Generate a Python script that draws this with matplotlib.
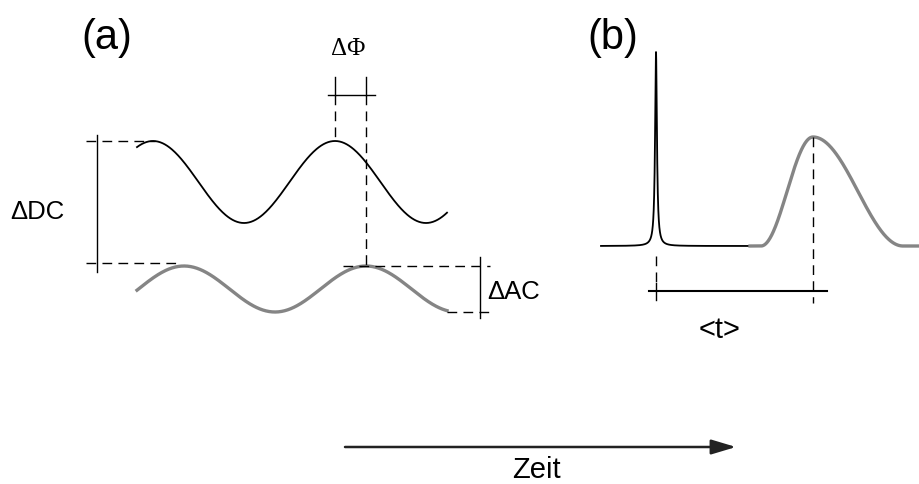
import numpy as np
import matplotlib.pyplot as plt

plt.rcParams['font.family'] = ['Liberation Sans', 'DejaVu Sans']

# (a) frequency domain: excitation and emission waves (pixel units)
wave_x = [137, 447]
exc_center, exc_amp, exc_peak = 182, 41, 335
em_center, em_amp, em_peak = 289, 23, 366
period = 182

# (b) time domain: laser pulse and fluorescence decay
base_y = 246
pulse_x, pulse_top, pulse_w = 656, 52, 1.1
pulse_range = [601, 750]
decay_peak, decay_top = 813, 137
decay_rise, decay_fall = 52, 90
decay_range = [750, 920]

GRAY = '#858585'
DASH = (0, (7, 4.5))

fig = plt.figure(figsize=(9.2, 4.84), dpi=100)
ax = fig.add_axes([0, 0, 1, 1])
ax.set_xlim(0, 920)
ax.set_ylim(484, 0)
ax.axis('off')

# sine waves
x = np.linspace(wave_x[0], wave_x[1], 400)
exc = exc_center - exc_amp * np.cos(2 * np.pi * (x - exc_peak) / period)
em = em_center - em_amp * np.cos(2 * np.pi * (x - em_peak) / period)
ax.plot(x, exc, color='black', lw=1.3)
ax.plot(x, em, color=GRAY, lw=2.4)

exc_top = exc_center - exc_amp
em_top = em_center - em_amp
em_bot = em_center + em_amp

# DC marker
ax.plot([97, 97], [135, 272], color='black', lw=1)
ax.plot([86, 155], [exc_top, exc_top], color='black', lw=1, ls=DASH)
ax.plot([86, 178], [em_top - 3, em_top - 3], color='black', lw=1, ls=DASH)
ax.text(37, 212, 'ΔDC', fontsize=18.5, ha='center', va='center')

# phase marker
for xp in (exc_peak, em_peak):
    ax.plot([xp, xp], [77, 95], color='black', lw=1)
ax.plot([328, 375], [95, 95], color='black', lw=1)
ax.plot([exc_peak, exc_peak], [95, exc_top], color='black', lw=1, ls=DASH)
ax.plot([em_peak, em_peak], [95, em_top], color='black', lw=1, ls=DASH)
ax.text(348, 49, 'ΔΦ', fontsize=18, ha='center', va='center',
        family='Liberation Serif')

# AC marker
ax.plot([343, 490], [em_top, em_top], color='black', lw=1, ls=DASH)
ax.plot([447, 490], [em_bot, em_bot], color='black', lw=1, ls=DASH)
ax.plot([480, 480], [257, 318], color='black', lw=1)
ax.text(514, 292, 'ΔAC', fontsize=18.5, ha='center', va='center')

# pulse
xp = np.linspace(pulse_range[0], pulse_range[1], 2000)
pulse = base_y - (base_y - pulse_top) / (1 + ((xp - pulse_x) / pulse_w) ** 2)
ax.plot(xp, pulse, color='black', lw=1.3)

# fluorescence decay: skewed raised-cosine peak
xd = np.linspace(decay_range[0], decay_range[1], 400)
half = np.where(xd < decay_peak, decay_rise, decay_fall)
d = np.clip(np.abs(xd - decay_peak) / half, 0, 1)
shape = 0.5 * (1 + np.cos(np.pi * d))
ax.plot(xd, base_y - (base_y - decay_top) * shape, color=GRAY, lw=2.4)

# lifetime marker
ax.plot([pulse_x, pulse_x], [256, 283], color='black', lw=1, ls=DASH)
ax.plot([pulse_x, pulse_x], [283, 300], color='black', lw=1)
ax.plot([decay_peak, decay_peak], [decay_top, 303], color='black', lw=1, ls=DASH)
ax.plot([649, 827], [291, 291], color='black', lw=1.5)
ax.text(720, 330, '<t>', fontsize=21, ha='center', va='center')

# panel labels
ax.text(107, 38, '(a)', fontsize=30, ha='center', va='center')
ax.text(613, 38, '(b)', fontsize=30, ha='center', va='center')

# time arrow
ax.annotate('', xy=(736, 447), xytext=(345, 447),
            arrowprops=dict(arrowstyle='-|>,head_length=1.5,head_width=0.45',
                            color='#222222', lw=1.8, shrinkA=0, shrinkB=0))
ax.text(536, 470, 'Zeit', fontsize=21, ha='center', va='center')

fig.savefig('out.png', dpi=100)
